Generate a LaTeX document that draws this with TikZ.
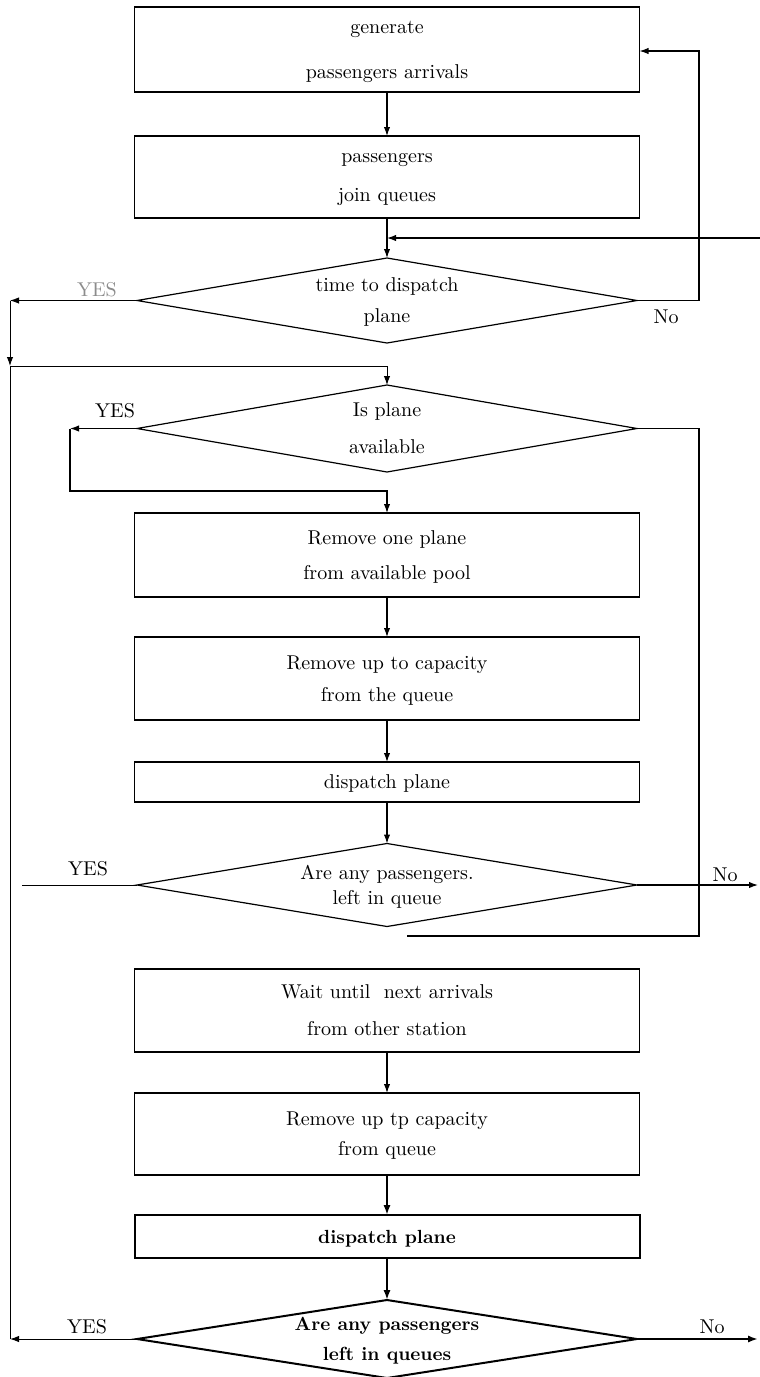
\documentclass[tikz,border=0pt]{standalone}
\usetikzlibrary{shapes.geometric,arrows.meta}
\begin{document}
\begin{tikzpicture}[x=0.5pt,y=-0.5pt,
  box/.style={draw,line width=0.6pt,minimum width=252.5pt,inner sep=0pt,outer sep=0pt,align=center,text depth=0pt,font=\fontsize{10}{12}\selectfont},
  dia/.style={draw,shape=diamond,aspect=6,line width=0.6pt,minimum width=250pt,inner sep=0pt,outer sep=0pt,align=center,text depth=0pt,font=\fontsize{10}{12}\selectfont},
  boldbox/.style={box,line width=1pt,font=\fontsize{9.5}{12}\selectfont\bfseries},
  bolddia/.style={dia,line width=1pt,font=\fontsize{9.5}{12}\selectfont\bfseries},
  lab/.style={font=\fontsize{10}{12}\selectfont,inner sep=0pt},
  conn/.style={line width=0.6pt},
  thin/.style={line width=0.45pt},
  arr/.style={-{Latex[length=4.5pt,width=3.2pt]}},
  barr/.style={line width=1pt,-{Latex[length=5pt,width=3.6pt]}}]
\useasboundingbox (0,0) rectangle (760,1377);

% boxes
\node[box,minimum height=42.5pt] (b1) at (387,49.5) {generate\\[10.5pt]passengers arrivals};
\node[box,minimum height=41pt] (b2) at (387,177) {passengers\\[7.5pt]join queues};
\node[dia,minimum height=42.5pt] (d1) at (387,300.5) {time to dispatch\\[3.5pt]plane};
\node[dia,minimum height=43.5pt] (d2) at (387,428.5) {Is plane\\[6.5pt]available};
\node[box,minimum height=42pt] (b3) at (387,555) {Remove one plane\\[5.5pt]from available pool};
\node[box,minimum height=41.5pt] (b4) at (387,678.5) {Remove up to capacity\\[4pt]from the queue};
\node[box,minimum height=20pt] (b5) at (387,782) {dispatch plane};
\node[dia,minimum height=41.5pt] (d3) at (387,885) {Are any passengers.\\[0.5pt]left in queue};
\node[box,minimum height=41.5pt] (b6) at (387,1010.5) {Wait until\ \ next arrivals\\[6.5pt]from other station};
\node[box,minimum height=41pt] (b7) at (387,1134) {Remove up tp capacity\\[3pt]from queue};
\node[boldbox,minimum height=21.5pt] (b8) at (387,1236.5) {dispatch plane};
\node[bolddia,minimum height=39pt] (d4) at (387,1339) {Are any passengers\\[3pt]left in queues};

% labels
\node[lab,text=black!45] (y1) at (97,290) {YES};
\node[lab] (n1) at (666,317) {No};
\node[lab] (y2) at (115,411) {YES};
\node[lab] (y3) at (88,869) {YES};
\node[lab] (n3) at (725,875) {No};
\node[lab] (y4) at (87,1327) {YES};
\node[lab] (n4) at (712,1327) {No};

% coordinates
\coordinate (fin) at (760,238);
\coordinate (r1) at (699,300.5);
\coordinate (r1t) at (699,51);
\coordinate (c1) at (10,300.5);
\coordinate (c2) at (10,366);
\coordinate (c4) at (10,1339);
\coordinate (l2) at (70,428.5);
\coordinate (l2b) at (70,491);
\coordinate (r2) at (699,428.5);
\coordinate (r2b) at (699,936);
\coordinate (r2e) at (407,936);
\coordinate (l3) at (22,885);
\coordinate (e3) at (758,885);
\coordinate (e4) at (758,1339);

% connectors
\draw[conn,arr] (b1) -- (b2);
\draw[conn,arr] (b2) -- (d1);
\draw[conn,arr] (fin) -- (b2.south |- fin);
\draw[conn,arr] (d1.east) -- (r1) -- (r1t) -- (b1.east |- r1t);
\draw[thin,arr] (d1.west) -- (c1);
\draw[thin,arr] (c1) -- (c2);
\draw[thin,arr] (c2) -| (d2.north);
\draw[thin] (c2) -- (c4);
\draw[conn,arr] (d2.west) -- (l2);
\draw[conn,arr] (l2) -- (l2b) -| (b3.north);
\draw[conn] (d2.east) -- (r2) -- (r2b) -- (r2e);
\draw[conn,arr] (b3) -- (b4);
\draw[conn,arr] (b4) -- (b5);
\draw[conn,arr] (b5) -- (d3);
\draw[thin] (d3.west) -- (l3);
\draw[conn,arr] (d3.east) -- (e3);
\draw[conn,arr] (b6) -- (b7);
\draw[barr] (b7) -- (b8);
\draw[barr] (b8) -- (d4);
\draw[thin,arr] (d4.west) -- (c4);
\draw[barr] (d4.east) -- (e4);
\end{tikzpicture}
\end{document}
